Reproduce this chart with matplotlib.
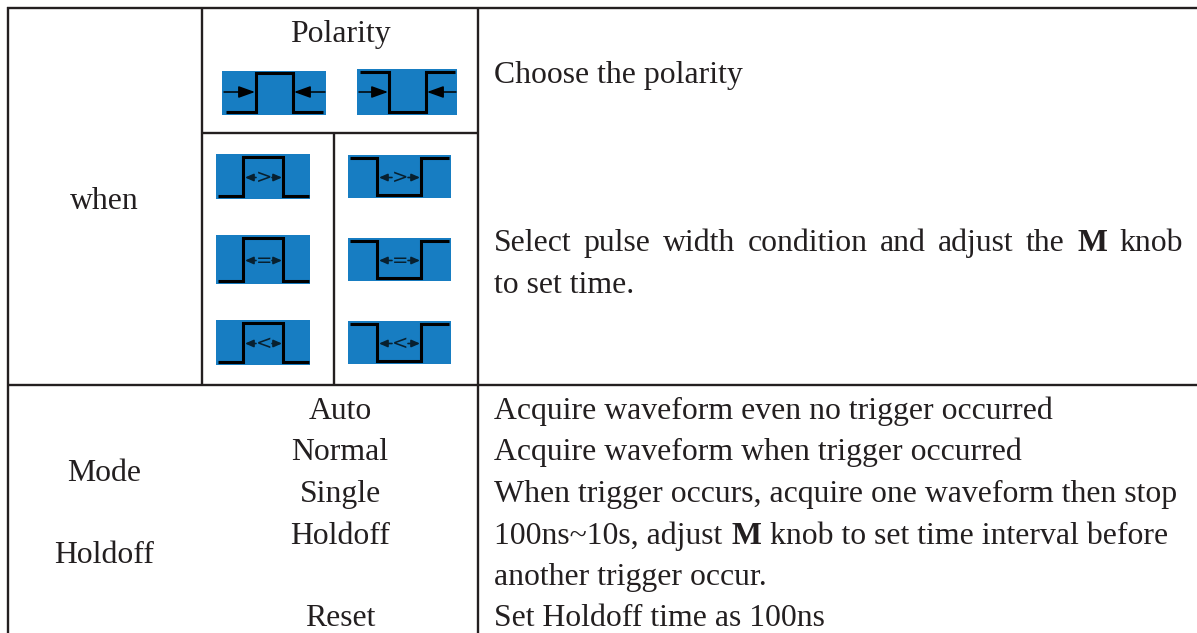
import matplotlib
matplotlib.use("Agg")
import matplotlib.pyplot as plt
from matplotlib.patches import Rectangle

W, H = 1197, 633
INK = "#231f20"
BLUE = "#177dc2"

center_labels = ["when", "Mode", "Holdoff"]
center_y = [198, 470, 552]
menu_labels = ["Auto", "Normal", "Single", "Holdoff", "Reset"]
menu_y = [408, 449, 491, 533, 615]
desc_lines = [
    ("Choose the polarity", 72),
    ("to set time.", 282),
    ("Acquire waveform even no trigger occurred", 408),
    ("Acquire waveform when trigger occurred", 449),
    ("When trigger occurs, acquire one waveform then stop", 491),
    ("another trigger occur.", 574),
    ("Set Holdoff time as 100ns", 615),
]
# box x0, y0, x1, y1; trace start, edge, edge, end; high y, low y; rising pulse?
polarity_icons = [
    (222, 71, 326, 115, 226, 256, 293, 323, 73, 112, True),
    (357, 69, 457, 115, 360, 389, 426, 455, 72, 112, False),
]
width_icons = [
    (216, 154, 310, 199, 218, 243, 283, 309, 157, 196, True, ">"),
    (348, 155, 451, 198, 350, 377, 421, 449, 158, 195, False, ">"),
    (216, 235, 310, 284, 218, 243, 283, 309, 238, 281, True, "="),
    (348, 238, 451, 281, 350, 377, 421, 449, 241, 278, False, "="),
    (216, 320, 310, 365, 218, 243, 283, 309, 323, 362, True, "<"),
    (348, 321, 451, 364, 350, 377, 421, 449, 324, 361, False, "<"),
]

fig = plt.figure(figsize=(W / 100, H / 100), dpi=100)
ax = fig.add_axes([0, 0, 1, 1])
ax.set_xlim(0, W)
ax.set_ylim(H, 0)
ax.axis("off")

FS = 22.9
FAM = "Liberation Serif"


def txt(x, y, s, ha="left", **kw):
    return ax.text(x, y, s, ha=ha, va="center_baseline", family=FAM, fontsize=FS, color=INK, **kw)


# grid: no right border, the rules run off the right edge
for x, y0, y1 in [(7.5, 7, 633), (202, 8, 385), (334, 133, 385), (478, 8, 633)]:
    ax.plot([x, x], [y0, y1], color=INK, lw=1.7, solid_capstyle="butt")
for y, x0, x1 in [(8, 6.5, W), (133, 202, 478), (385, 7, W)]:
    ax.plot([x0, x1], [y, y], color=INK, lw=1.7, solid_capstyle="butt")


def pulse(x0, y0, x1, y1, s, a, b, e, hi_y, lo_y, rising, lw):
    ax.add_patch(Rectangle((x0, y0), x1 - x0, y1 - y0, fc=BLUE, ec="none", zorder=2))
    lo, hi = (lo_y, hi_y) if rising else (hi_y, lo_y)
    ax.plot([s, a, a, b, b, e], [lo, lo, hi, hi, lo, lo],
            color="black", lw=lw, zorder=3, solid_joinstyle="miter", solid_capstyle="butt")


def arrow(x_from, x_to, y, style, lw, color="black"):
    ax.annotate("", xy=(x_to, y), xytext=(x_from, y), zorder=4,
                arrowprops=dict(arrowstyle=style, color=color, lw=lw, shrinkA=0, shrinkB=0))


for x0, y0, x1, y1, s, a, b, e, hi_y, lo_y, rising in polarity_icons:
    pulse(x0, y0, x1, y1, s, a, b, e, hi_y, lo_y, rising, 2.2)
    m = 92
    arrow(x0 + 2, a - 1, m, "-|>,head_width=0.36,head_length=1.0", 1.1)
    arrow(x1 - 1, b + 1, m, "-|>,head_width=0.36,head_length=1.0", 1.1)

for x0, y0, x1, y1, s, a, b, e, hi_y, lo_y, rising, sym in width_icons:
    pulse(x0, y0, x1, y1, s, a, b, e, hi_y, lo_y, rising, 2.2)
    m = (y0 + y1) / 2 + 1
    c = (a + b) / 2
    arrow(c - 7, a + 2, m, "-|>,head_width=0.22,head_length=0.5", 1.2, "#08202f")
    arrow(c + 9, b - 1, m, "-|>,head_width=0.22,head_length=0.5", 1.2, "#08202f")
    ax.text(c + 1, m, sym, ha="center", va="center", fontsize=14,
            color="#08202f", family="DejaVu Sans", zorder=5)

# text
txt(340, 31, "Polarity", ha="center")
for s, y in zip(center_labels, center_y):
    txt(104, y, s, ha="center")
for s, y in zip(menu_labels, menu_y):
    txt(340, y, s, ha="center")
for s, y in desc_lines:
    txt(494, y, s)

# justified line with a bold M
r = fig.canvas.get_renderer()


def run(x, y, parts, end):
    arts = [txt(x, y, s, fontweight=("bold" if b else "normal")) for s, b in parts]
    widths = [a.get_window_extent(r).width for a in arts]
    gap = (end - x - sum(widths)) / (len(parts) - 1)
    for a, w in zip(arts, widths):
        a.set_x(x)
        x += w + gap


words = "Select pulse width condition and adjust the".split()
run(494, 240, [(w, False) for w in words] + [("M", True), ("knob", False)], 1183)
t1 = txt(494, 533, "100ns~10s, adjust")
x = 494 + t1.get_window_extent(r).width + 9
t2 = txt(x, 533, "M", fontweight="bold")
x += t2.get_window_extent(r).width + 9
txt(x, 533, "knob to set time interval before")

fig.savefig("out.png", dpi=100)
